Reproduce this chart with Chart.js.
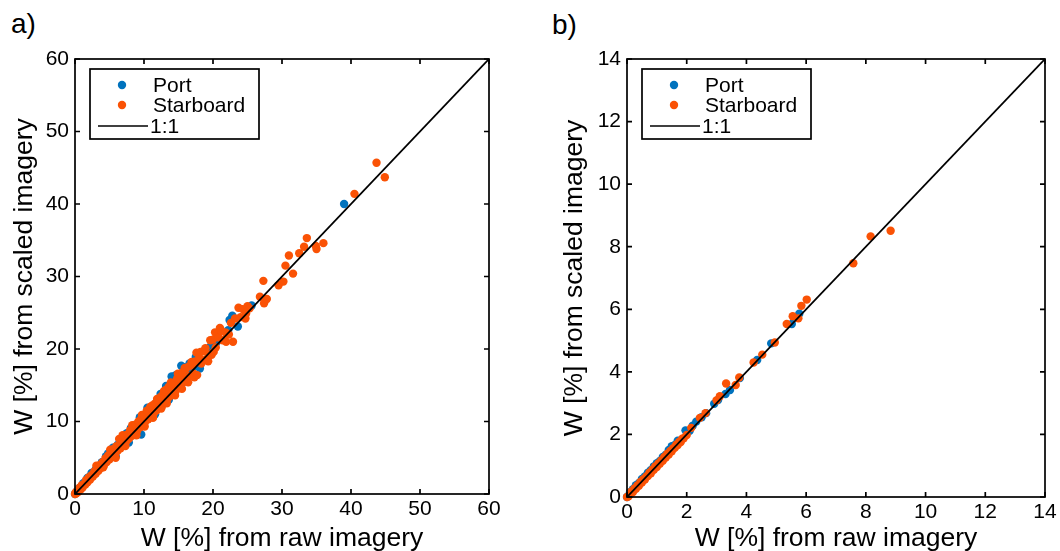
<!DOCTYPE html>
<html><head><meta charset="utf-8">
<script src="https://cdn.jsdelivr.net/npm/chart.js@4.4.1/dist/chart.umd.min.js"></script>
<style>
html,body{margin:0;padding:0;background:#fff;width:1060px;height:551px;overflow:hidden}
canvas{position:absolute;top:0}
#ca{left:0}#cb{left:530px}
.lab{position:absolute;font-family:"Liberation Sans",Arial,sans-serif;font-size:28px;color:#000;line-height:1}
</style></head><body>
<div class="lab" style="left:11px;top:10px">a)</div>
<div class="lab" style="left:552px;top:11px">b)</div>
<canvas id="ca" width="530" height="551"></canvas>
<canvas id="cb" width="530" height="551"></canvas>
<script>
// ---------- data ----------
const seriesNames = ['Port', 'Starboard', '1:1'];
const xTitle = 'W [%] from raw imagery';
const yTitle = 'W [%] from scaled imagery';
const ticksA = [0, 10, 20, 30, 40, 50, 60];
const ticksB = [0, 2, 4, 6, 8, 10, 12, 14];
const oneToOneA = [[0, 0], [60, 60]];
const oneToOneB = [[0, 0], [14, 14]];

const portA = [[0,0],[0.3,0.4],[0.6,0.8],[0.9,1.0],[1.2,1.5],[1.5,1.7],[1.8,2.2],[2.1,2.4],[2.4,2.9],[2.7,2.8],[3.0,3.4],[3.3,3.7],[3.6,3.9],[3.9,4.4],[4.2,4.5],[4.5,5.2],[4.8,5.6],[5.0,4.9],[5.3,5.9],[5.5,6.4],[5.6,5.7],[5.9,5.2],[6.2,6.8],[6.5,6.6],[6.9,7.5],[7.2,7.3],[7.5,8.4],[7.8,7.1],[8.1,9.1],[8.4,8.8],[8.8,9.4],[9.1,9.0],[9.2,8.6],[9.4,10.6],[9.6,8.2],[9.9,10.6],[10.3,10.7],[10.5,11.9],[10.7,11.0],[11.0,11.6],[11.4,11.3],[11.6,11.0],[11.8,12.6],[12.2,12.4],[12.4,13.8],[12.6,12.9],[13.0,13.6],[13.2,14.9],[13.4,13.5],[13.6,13.0],[13.8,14.6],[14.0,16.2],[14.3,15.0],[14.6,16.4],[14.7,15.3],[15.0,16.0],[15.4,17.7],[15.6,15.4],[15.8,17.5],[16.0,16.8],[16.4,16.9],[16.6,18.0],[16.8,17.0],[17.2,17.6],[17.5,18.9],[18.1,17.3],[19.0,19.8],[19.6,20.3],[20.5,20.9],[22.4,24.0],[22.8,24.6],[23.6,23.1],[22.2,22.6],[25.6,26.0],[39.0,40.0]];

const starA = [[0,0],[0.1,0.2],[0.2,0.1],[0.4,0.5],[0.5,0.3],[0.7,0.9],[0.8,0.6],[1.0,1.2],[1.1,0.9],[1.3,1.4],[1.5,1.3],[1.6,1.9],[1.8,1.6],[2.0,2.3],[2.2,2.0],[2.4,2.6],[2.6,2.4],[2.8,3.1],[3.0,2.8],[3.1,3.9],[3.2,3.5],[3.4,3.2],[3.6,4.0],[3.8,3.6],[4.0,4.4],[4.1,3.7],[4.2,4.0],[4.4,4.9],[4.6,4.4],[4.8,5.3],[5.0,4.8],[5.1,6.1],[5.2,5.7],[5.4,5.2],[5.6,6.2],[5.8,5.5],[5.9,5.0],[6.0,6.6],[6.2,6.0],[6.4,7.6],[6.6,6.3],[6.8,7.4],[6.9,8.1],[7.0,6.8],[7.2,8.0],[7.3,6.6],[7.4,7.2],[7.6,8.2],[7.8,7.6],[8.0,8.8],[8.2,8.0],[8.3,9.5],[8.4,9.2],[8.6,8.4],[8.8,9.6],[8.9,8.1],[9.0,8.7],[9.2,10.0],[9.4,9.2],[9.6,10.4],[9.7,10.9],[9.8,9.6],[10.0,10.9],[10.1,9.3],[10.2,10.0],[10.4,11.5],[10.6,10.3],[10.8,11.3],[10.9,12.0],[11.0,10.6],[11.2,12.2],[11.3,10.5],[11.4,11.1],[11.6,12.5],[11.8,11.5],[11.9,13.1],[12.0,13.0],[12.2,12.0],[12.4,13.4],[12.5,11.8],[12.6,12.1],[12.8,13.8],[12.9,14.2],[13.0,12.6],[13.2,14.4],[13.3,12.5],[13.4,13.1],[13.6,14.8],[13.8,13.5],[13.9,15.4],[14.0,15.0],[14.2,14.0],[14.4,15.3],[14.5,13.6],[14.6,14.2],[14.8,15.9],[14.9,16.6],[15.0,14.8],[15.2,16.4],[15.4,15.0],[15.5,14.5],[15.6,16.8],[15.8,15.5],[15.9,17.4],[16.0,17.2],[16.2,16.0],[16.4,15.4],[16.5,17.6],[16.7,16.3],[16.9,18.2],[17.0,17.8],[17.2,16.6],[17.3,16.1],[17.4,18.3],[17.6,19.5],[17.7,16.4],[18.0,18.8],[18.2,19.6],[18.3,18.0],[18.6,19.7],[18.9,20.1],[19.0,18.6],[19.3,18.3],[19.5,19.2],[19.6,21.2],[19.8,19.2],[20.0,21.3],[20.1,19.6],[20.3,22.3],[20.4,20.2],[20.8,21.6],[21.0,22.9],[21.2,22.5],[21.4,21.2],[21.8,22.3],[21.9,21.0],[22.3,22.0],[22.6,23.6],[22.9,21.0],[23.2,24.2],[23.7,25.7],[24.0,24.4],[24.3,25.5],[24.7,24.2],[24.8,24.9],[25.0,25.9],[25.3,25.6],[26.8,27.2],[27.3,29.4],[27.4,26.3],[27.8,26.9],[29.5,28.8],[30.2,29.3],[30.5,31.5],[31.0,32.9],[31.6,30.4],[32.5,33.2],[33.2,34.1],[33.6,35.3],[35.0,33.8],[34.9,34.2],[36.0,34.6],[40.5,41.4],[43.7,45.7],[44.9,43.7]];

const portB = [[0,0],[0.1,0.15],[0.2,0.25],[0.3,0.38],[0.4,0.45],[0.5,0.58],[0.6,0.66],[0.7,0.78],[0.8,0.86],[0.9,0.98],[1.0,1.08],[1.1,1.15],[1.2,1.28],[1.3,1.35],[1.4,1.5],[1.5,1.62],[1.6,1.66],[1.7,1.8],[1.96,2.13],[2.1,2.12],[2.2,2.28],[2.32,2.41],[2.5,2.55],[2.65,2.68],[2.92,2.98],[3.05,3.1],[3.3,3.29],[3.45,3.42],[3.78,3.8],[4.36,4.38],[4.83,4.91],[5.52,5.53],[5.77,5.86]];

const starB = [[0,0],[0.05,0.02],[0.1,0.08],[0.15,0.18],[0.2,0.16],[0.25,0.27],[0.3,0.26],[0.35,0.37],[0.4,0.36],[0.45,0.48],[0.5,0.46],[0.55,0.57],[0.6,0.56],[0.65,0.66],[0.7,0.67],[0.75,0.78],[0.8,0.76],[0.85,0.87],[0.9,0.87],[0.95,0.98],[1.0,0.96],[1.05,1.07],[1.1,1.06],[1.15,1.17],[1.2,1.16],[1.25,1.28],[1.3,1.26],[1.35,1.38],[1.4,1.36],[1.45,1.47],[1.5,1.46],[1.55,1.56],[1.6,1.57],[1.65,1.67],[1.7,1.66],[1.75,1.77],[1.8,1.76],[1.85,1.86],[1.9,1.88],[2.0,1.98],[2.15,2.21],[2.44,2.53],[2.63,2.68],[3.0,3.09],[3.11,3.22],[3.32,3.63],[3.64,3.58],[3.76,3.82],[4.24,4.30],[4.53,4.55],[4.95,4.94],[5.35,5.53],[5.55,5.78],[5.74,5.71],[5.84,6.11],[6.02,6.31],[7.58,7.47],[8.16,8.33],[8.83,8.51]];

// ---------- styling ----------
const FONT = '"Liberation Sans", Arial, Helvetica, sans-serif';
const BLUE = '#0072BD';
const ORANGE = '#FA5205';
const R = 4.2;
const toXY = arr => arr.map(p => ({x: p[0], y: p[1]}));

const framePlugin = {
  id: 'frame',
  afterDatasetsDraw(chart) {
    const {ctx, chartArea: a, scales: {x, y}} = chart;
    ctx.save();
    ctx.strokeStyle = '#000';
    ctx.lineWidth = 1.7;
    ctx.strokeRect(a.left, a.top, a.right - a.left, a.bottom - a.top);
    const L = 5;
    ctx.beginPath();
    x.ticks.forEach(t => {
      const px = x.getPixelForValue(t.value);
      ctx.moveTo(px, a.bottom); ctx.lineTo(px, a.bottom - L);
      ctx.moveTo(px, a.top); ctx.lineTo(px, a.top + L);
    });
    y.ticks.forEach(t => {
      const py = y.getPixelForValue(t.value);
      ctx.moveTo(a.left, py); ctx.lineTo(a.left + L, py);
      ctx.moveTo(a.right, py); ctx.lineTo(a.right - L, py);
    });
    ctx.stroke();
    // legend box
    const bx = a.left + 15, by = a.top + 10, bw = 169, bh = 70;
    ctx.fillStyle = '#fff';
    ctx.fillRect(bx, by, bw, bh);
    ctx.lineWidth = 1.7;
    ctx.strokeRect(bx, by, bw, bh);
    const ds = chart.data.datasets;
    const rows = [a.top + 26, a.top + 46, a.top + 67];
    ctx.font = '21px ' + FONT;
    ctx.textBaseline = 'middle';
    ctx.textAlign = 'left';
    for (let i = 0; i < 2; i++) {
      ctx.fillStyle = ds[i].backgroundColor;
      ctx.beginPath();
      ctx.arc(a.left + 47, rows[i], R, 0, Math.PI * 2);
      ctx.fill();
      ctx.fillStyle = '#000';
      ctx.fillText(ds[i].label, a.left + 78, rows[i] + 1);
    }
    ctx.strokeStyle = '#000';
    ctx.lineWidth = 1.7;
    ctx.beginPath();
    ctx.moveTo(a.left + 23, rows[2]); ctx.lineTo(a.left + 73, rows[2]);
    ctx.stroke();
    ctx.fillStyle = '#000';
    ctx.fillText(ds[2].label, a.left + 75, rows[2] + 1);
    ctx.restore();
  }
};

function makeChart(id, port, star, line, ticks, max, yW, xH, rightPad, yTitlePad) {
  return new Chart(document.getElementById(id), {
    type: 'scatter',
    data: {
      datasets: [
        {label: seriesNames[0], data: toXY(port), backgroundColor: BLUE, borderWidth: 0, pointRadius: R, order: 3, clip: false},
        {label: seriesNames[1], data: toXY(star), backgroundColor: ORANGE, borderWidth: 0, pointRadius: R, order: 2, clip: false},
        {label: seriesNames[2], data: toXY(line), showLine: true, borderColor: '#000', backgroundColor: '#000', borderWidth: 1.8, pointRadius: 0, order: 1}
      ]
    },
    options: {
      responsive: false, animation: false, devicePixelRatio: 1,
      layout: {padding: {left: 0, top: 59, right: rightPad, bottom: 0}},
      plugins: {legend: {display: false}, tooltip: {enabled: false}},
      scales: {
        x: {
          type: 'linear', min: 0, max: max,
          afterBuildTicks: s => { s.ticks = ticks.map(v => ({value: v})); },
          ticks: {padding: 3, color: '#000', font: {size: 21, family: FONT}},
          grid: {display: false, drawTicks: false},
          border: {display: false},
          title: {display: true, text: xTitle, color: '#000', font: {size: 26.5, family: FONT}, padding: {top: 0, bottom: -3.5}},
          afterFit: s => { s.height = xH; }
        },
        y: {
          type: 'linear', min: 0, max: max,
          afterBuildTicks: s => { s.ticks = ticks.map(v => ({value: v})); },
          ticks: {padding: 6, color: '#000', font: {size: 21, family: FONT}},
          grid: {display: false, drawTicks: false},
          border: {display: false},
          title: {display: true, text: yTitle, color: '#000', font: {size: 26.5, family: FONT}, padding: {top: yTitlePad, bottom: 0}},
          afterFit: s => { s.width = yW; }
        }
      }
    },
    plugins: [framePlugin]
  });
}

makeChart('ca', portA, starA, oneToOneA, ticksA, 60, 75, 57, 41, 9);
makeChart('cb', portB, starB, oneToOneB, ticksB, 14, 97, 54, 15, 28.5);
</script>
</body></html>
